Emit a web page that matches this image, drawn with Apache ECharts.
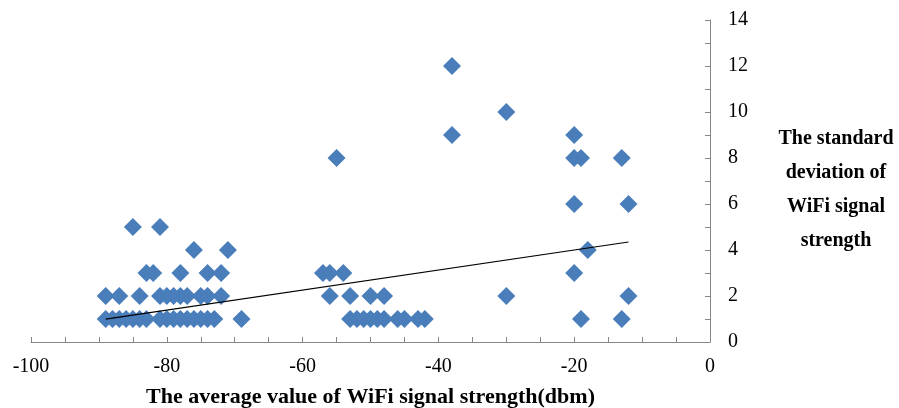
<!DOCTYPE html>
<html>
<head>
<meta charset="utf-8">
<script src="https://cdn.jsdelivr.net/npm/echarts@6/dist/echarts.min.js"></script>
<style>
  html, body { margin: 0; padding: 0; background: #fff; }
  #chart { width: 899px; height: 408px; }
</style>
</head>
<body>
<div id="chart"></div>
<script>
// 平均信号强度 (dbm)
var wifiMean = [
  -89, -88, -87, -86, -85, -84, -83, -81, -80, -79, -78, -77, -76, -75, -74, -73, -69,
  -89, -87, -84, -81, -80, -79, -78, -77, -75, -74, -72,
  -83, -82, -78, -74, -72,
  -76, -71,
  -85, -81,
  -53, -52, -51, -50, -49, -48, -46, -45, -43, -42,
  -56, -53, -50, -48,
  -57, -56, -54,
  -55,
  -38, -30, -38, -20, -20, -19, -13, -20, -12, -18, -20, -30, -12, -19, -13
];
// 信号强度标准差
var wifiStd = [
  1, 1, 1, 1, 1, 1, 1, 1, 1, 1, 1, 1, 1, 1, 1, 1, 1,
  2, 2, 2, 2, 2, 2, 2, 2, 2, 2, 2,
  3, 3, 3, 3, 3,
  4, 4,
  5, 5,
  1, 1, 1, 1, 1, 1, 1, 1, 1, 1,
  2, 2, 2, 2,
  3, 3, 3,
  8,
  12, 10, 9, 9, 8, 8, 8, 6, 6, 4, 3, 2, 2, 1, 1
];
// 趋势线系数（从图上读取：y = k*x + b）
var trendSlope = 0.0435;
var trendIntercept = 4.87;
var xLabels = [-100, -80, -60, -40, -20, 0];
var yLabels = [0, 2, 4, 6, 8, 10, 12, 14];

(function(){
  var myChart = echarts.init(document.getElementById('chart'));

  var points = wifiMean.map(function(x, i){ return [x, wifiStd[i]]; });

  // 趋势线覆盖数据的x范围
  var xMin = Math.min.apply(null, wifiMean), xMax = Math.max.apply(null, wifiMean);
  var trend = [xMin, xMax].map(function(x){ return [x, trendSlope*x + trendIntercept]; });

  var font = '"Liberation Serif", "Times New Roman", serif';

  var option = {
    animation: false,
    grid: { left: 31, right: 189, top: 20, bottom: 66, outerBoundsMode: 'none' },
    // y轴标题（多行，放在右侧）
    graphic: [{
      type: 'text',
      x: 836, y: 190,
      style: {
        text: 'The standard\ndeviation of\nWiFi signal\nstrength',
        fill: '#000',
        font: 'bold 20px ' + font,
        lineHeight: 34,
        align: 'center',
        verticalAlign: 'middle'
      }
    }],
    xAxis: {
      type: 'value',
      min: -100, max: 0, interval: 5,
      axisLine: { show: true, onZero: false, lineStyle: { color: '#868686', width: 1 } },
      axisTick: { show: true, inside: true, length: 5, lineStyle: { color: '#868686' } },
      splitLine: { show: false },
      axisLabel: {
        margin: 15, color: '#000', fontFamily: font, fontSize: 20,
        formatter: function(v){ return xLabels.indexOf(v) > -1 ? String(v) : ''; }
      },
      name: 'The average value of WiFi signal strength(dbm)',
      nameLocation: 'middle',
      nameGap: 44,
      nameTextStyle: { color: '#000', fontFamily: font, fontSize: 22, fontWeight: 'bold' }
    },
    yAxis: {
      type: 'value',
      position: 'right',
      min: 0, max: 14, interval: 1,
      axisLine: { show: true, onZero: false, lineStyle: { color: '#868686', width: 1 } },
      axisTick: { show: true, inside: true, length: 5, lineStyle: { color: '#868686' } },
      splitLine: { show: false },
      axisLabel: {
        margin: 18, color: '#000', fontFamily: font, fontSize: 20,
        formatter: function(v){ return yLabels.indexOf(v) > -1 ? String(v) : ''; }
      }
    },
    series: [
      {
        type: 'scatter',
        symbol: 'diamond',
        symbolSize: 18,
        itemStyle: { color: '#4a7ebb', opacity: 1 },
        data: points,
        z: 2
      },
      {
        type: 'line',
        data: trend,
        symbol: 'none',
        lineStyle: { color: '#000', width: 1.2 },
        z: 3
      }
    ]
  };

  myChart.setOption(option);
  window.addEventListener('resize', function(){
    myChart.resize();
  });
})();
</script>
</body>
</html>
